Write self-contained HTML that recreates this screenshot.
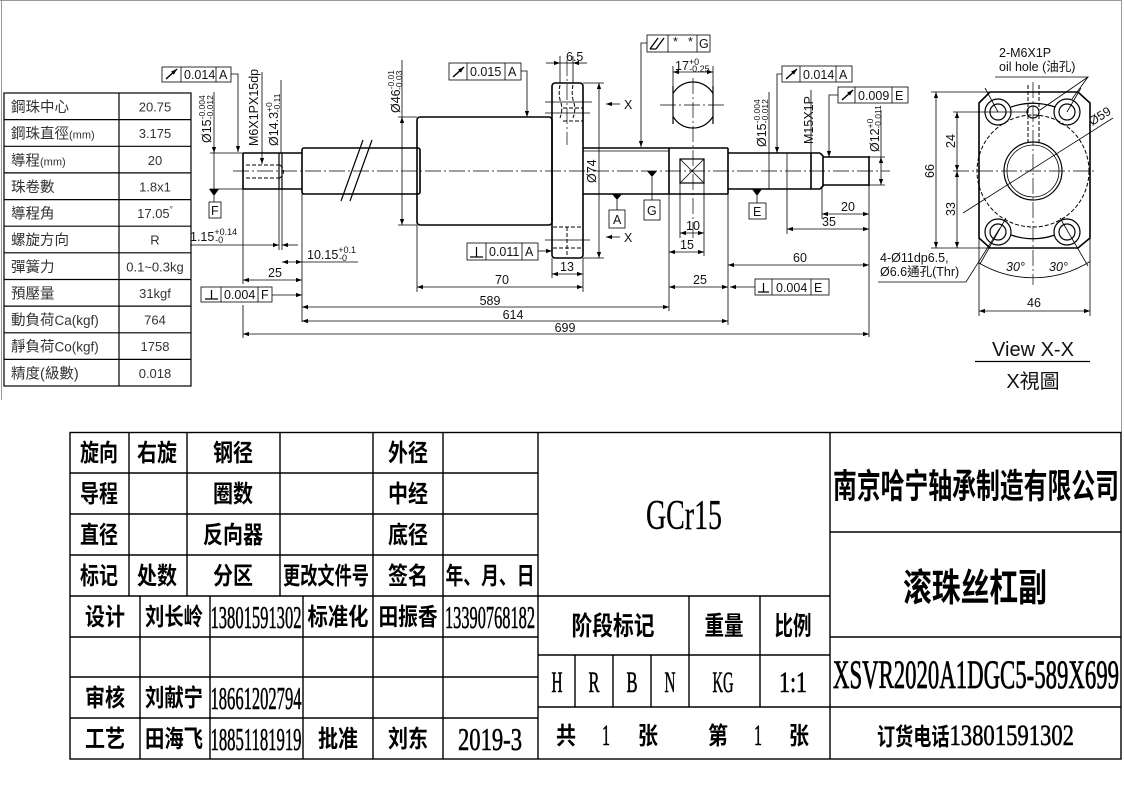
<!DOCTYPE html>
<html><head><meta charset="utf-8"><style>
html,body{margin:0;padding:0;background:#fff;width:1124px;height:795px;overflow:hidden}
svg{display:block}
.l{stroke:#000;stroke-width:.8;fill:none}
.t{stroke:#000;stroke-width:1.6;fill:none}
.m{stroke:#000;stroke-width:1.2;fill:none}
.c{stroke:#000;stroke-width:.7;fill:none;stroke-dasharray:16 3 2 3}
.h{stroke:#000;stroke-width:1;fill:none;stroke-dasharray:4 2}
.s{font-family:"Liberation Sans","Noto Sans CJK TC",sans-serif;font-size:12.5px;fill:#111}
.p{font-family:"Liberation Sans","Noto Sans CJK TC",sans-serif;font-size:13px;fill:#333}
.pc{font-size:14.5px}
.k{font-family:"Liberation Serif","Noto Sans CJK SC",sans-serif;font-weight:bold;font-size:24px;fill:#000}
.n{font-family:"Liberation Serif","Noto Serif CJK SC",serif;font-size:32px;fill:#000;stroke:#000;stroke-width:.6}
</style></head><body>
<svg width="1124" height="795" viewBox="0 0 1124 795" xmlns="http://www.w3.org/2000/svg">
<defs>
<marker id="a" viewBox="0 0 10 10" refX="10" refY="5" markerWidth="7" markerHeight="6" orient="auto-start-reverse" markerUnits="userSpaceOnUse"><path d="M0,1.5 L10,5 L0,8.5 z" fill="#000"/></marker>
</defs>
<rect width="1124" height="795" fill="#fff"/>
<!-- frame -->
<path d="M1.5,0 V400 M0,0.5 H1122 M1121.5,0 V432" stroke="#999" stroke-width="1" fill="none"/>

<!-- parameter table -->
<g>
<rect x="4" y="93" width="187" height="293" class="m"/>
<path class="m" d="M4,119.6H191M4,146.3H191M4,172.9H191M4,199.6H191M4,226.2H191M4,252.8H191M4,279.5H191M4,306.1H191M4,332.8H191M4,359.4H191M119,93V386"/>
<g class="p">
<text x="11" y="112" class="pc">鋼珠中心</text><text x="155" y="111.5" text-anchor="middle">20.75</text>
<text x="11" y="138.5" class="pc">鋼珠直徑<tspan font-size="11">(mm)</tspan></text><text x="155" y="138" text-anchor="middle">3.175</text>
<text x="11" y="165.3" class="pc">導程<tspan font-size="11">(mm)</tspan></text><text x="155" y="164.8" text-anchor="middle">20</text>
<text x="11" y="191.9" class="pc">珠卷數</text><text x="155" y="191.4" text-anchor="middle">1.8x1</text>
<text x="11" y="218.5" class="pc">導程角</text><text x="155" y="218" text-anchor="middle">17.05<tspan font-size="8" dy="-6">°</tspan></text>
<text x="11" y="245.2" class="pc">螺旋方向</text><text x="155" y="244.7" text-anchor="middle">R</text>
<text x="11" y="271.8" class="pc">彈簧力</text><text x="155" y="271.3" text-anchor="middle">0.1~0.3kg</text>
<text x="11" y="298.5" class="pc">預壓量</text><text x="155" y="298" text-anchor="middle">31kgf</text>
<text x="11" y="325.1" class="pc">動負荷<tspan font-size="13.5">Ca(kgf)</tspan></text><text x="155" y="324.6" text-anchor="middle">764</text>
<text x="11" y="351.7" class="pc">靜負荷<tspan font-size="13.5">Co(kgf)</tspan></text><text x="155" y="351.2" text-anchor="middle">1758</text>
<text x="11" y="378.4" class="pc">精度(級數)</text><text x="155" y="377.9" text-anchor="middle">0.018</text>
</g>
</g>

<!-- ================= MAIN SHAFT ================= -->
<path class="c" d="M233,171 H890"/>
<!-- left journal -->
<path class="t" d="M243,153 H302 M243,189 H302 M243,153 V189"/>
<path class="m" d="M279,153 V189 M282,153 V189"/>
<path class="h" d="M246,165 H280 M246,178 H280"/>
<path class="h" d="M280,165 Q287,171.5 280,178"/>
<!-- left rod -->
<rect x="302" y="148" width="118" height="46" rx="2" class="t" fill="#fff"/>
<path class="m" d="M363,140 L341,201 M372,140 L350,201"/>
<!-- nut -->
<rect x="417" y="117" width="135" height="108" rx="3" class="t" fill="#fff"/>
<!-- flange -->
<rect x="552" y="83" width="31" height="175" rx="3" class="t" fill="#fff"/>
<path class="h" d="M560,85 Q558,95 561,103 Q563,110 560,118 M573,85 Q571,95 574,103 Q576,110 573,118 M563,108 H583 M563,121 H583 M553,227 H583 M553,248 H583 M567,227 V256"/>
<path class="l" d="M545,102 H592 M545,113 H590 M545,240 H590"/>
<path class="c" d="M567,60 V145"/>
<!-- right rod -->
<path class="t" d="M583,148 H728 M583,194 H728 M669,148 V194 M728,148 V194"/>
<path class="l" d="M583,151 H669"/>
<rect x="680" y="159" width="24" height="24" class="m"/>
<path class="l" d="M680,159 L704,183 M704,159 L680,183"/>
<!-- right journal, M15, Ø12 -->
<path class="t" d="M728,153 H787 M728,189 H787 M787,153 H820 M787,189 H820 M820,153 L823,156 V186 L820,189 M823,157 H869 M823,185 H869 M869,156 V186 M811,153 V189"/>
<path class="l" d="M787,153 V189"/>

<!-- small end view -->
<defs><clipPath id="cf"><rect x="673" y="70" width="40" height="70"/></clipPath></defs>
<circle cx="693" cy="105" r="23" class="m" clip-path="url(#cf)"/>
<path class="m" d="M673,86 V124 M713,86 V124"/>
<path class="c" d="M660,105 H727 M693,78 V240"/>
<path class="l" d="M673,66 V86 M713,66 V86"/>
<path class="l" d="M673,72 H713" marker-start="url(#a)" marker-end="url(#a)"/>
<text class="s" x="675" y="70">17<tspan font-size="9" dy="-5">+0</tspan><tspan font-size="9" dx="-10" dy="7">-0.25</tspan></text>

<!-- ===== LEFT ANNOTATIONS ===== -->
<rect x="162" y="67" width="69" height="15" class="l"/>
<path class="l" d="M181,67 V82 M216,67 V82"/>
<path d="M166,79 L177,69" stroke="#000" stroke-width="1.5" marker-end="url(#a)"/>
<text class="s" x="184" y="79">0.014</text><text class="s" x="219" y="79">A</text>
<path class="l" d="M231,74 H238 V152" marker-end="url(#a)"/>
<!-- Ø15 left -->
<path class="l" d="M210,153 H243 M210,189 H243"/>
<path class="l" d="M214,92 V153" marker-end="url(#a)"/>
<path class="l" d="M214,153 V189"/>
<text class="s" transform="translate(211,143) rotate(-90)">Ø15<tspan font-size="8.5" dy="-6">-0.004</tspan><tspan font-size="8.5" dx="-24" dy="8">-0.012</tspan></text>
<!-- datum F -->
<path d="M209,189 H219 L214,196 Z" fill="#000"/>
<path class="l" d="M214,196 V202"/>
<rect x="209" y="202" width="12" height="16" class="l"/>
<text class="s" x="211" y="215">F</text>
<!-- M6 -->
<text class="s" transform="translate(258,146) rotate(-90)">M6X1PX15dp</text>
<path class="l" d="M262,72 V164" marker-end="url(#a)"/>
<!-- Ø14.3 -->
<text class="s" transform="translate(278,146) rotate(-90)">Ø14.3<tspan font-size="8.5" dy="-6">+0</tspan><tspan font-size="8.5" dx="-10" dy="8">-0.11</tspan></text>
<path class="l" d="M281,80 V153"/>
<!-- 1.15 -->
<path class="l" d="M279,189 V250 M282,189 V250"/>
<path class="l" d="M190,245 H279" marker-end="url(#a)"/>
<path class="l" d="M298,245 H282" marker-end="url(#a)"/>
<text class="s" x="190" y="241">1.15<tspan font-size="9" dy="-6">+0.14</tspan><tspan font-size="9" dx="-22" dy="8">-0</tspan></text>
<!-- 10.15 -->
<path class="l" d="M302,194 V322"/>
<path class="l" d="M282,262 H302" marker-start="url(#a)" marker-end="url(#a)"/>
<path class="l" d="M302,262 H358"/>
<text class="s" x="307" y="259">10.15<tspan font-size="9" dy="-6">+0.1</tspan><tspan font-size="9" dx="-17" dy="8">-0</tspan></text>
<!-- 25 left -->
<path class="l" d="M243,189 V284 M243,305 V338"/>
<path class="l" d="M243,280 H302" marker-start="url(#a)" marker-end="url(#a)"/>
<text class="s" x="275" y="277" text-anchor="middle">25</text>
<!-- perp 0.004 F -->
<rect x="201" y="287" width="71" height="15" class="l"/>
<path class="l" d="M221,287 V302 M258,287 V302"/>
<path d="M205,299 H218 M211.5,299 V290" stroke="#000" stroke-width="1.2"/>
<text class="s" x="224" y="299">0.004</text><text class="s" x="261" y="299">F</text>
<path class="l" d="M272,295 H302" marker-end="url(#a)"/>

<!-- Ø46 -->
<path class="l" d="M398,117 H417 M398,225 H417"/>
<path class="l" d="M402,117 V225" marker-start="url(#a)" marker-end="url(#a)"/>
<path class="l" d="M402,60 V117"/>
<text class="s" transform="translate(400,113) rotate(-90)">Ø46<tspan font-size="8.5" dy="-6">-0.01</tspan><tspan font-size="8.5" dx="-20" dy="8">-0.03</tspan></text>
<!-- runout 0.015 A -->
<rect x="449" y="63" width="72" height="17" class="l"/>
<path class="l" d="M467,63 V80 M505,63 V80"/>
<path d="M453,77 L464,67" stroke="#000" stroke-width="1.5" marker-end="url(#a)"/>
<text class="s" x="470" y="76">0.015</text><text class="s" x="508" y="76">A</text>
<path class="l" d="M521,71 H527 V117" marker-end="url(#a)"/>
<!-- perp 0.011 A -->
<rect x="467" y="243" width="71" height="17" class="l"/>
<path class="l" d="M486,243 V260 M522,243 V260"/>
<path d="M470,257 H483 M476.5,257 V247" stroke="#000" stroke-width="1.2"/>
<text class="s" x="489" y="256">0.011</text><text class="s" x="525" y="256">A</text>
<path class="l" d="M538,251 H552" marker-end="url(#a)"/>
<!-- 6.5 -->
<path class="l" d="M560,56 V83 M573,56 V83"/>
<path class="l" d="M546,63 H560" marker-end="url(#a)"/>
<path class="l" d="M587,63 H573" marker-end="url(#a)"/>
<path class="l" d="M560,63 H573"/>
<text class="s" x="566" y="61">6.5</text>
<!-- Ø74 -->
<path class="l" d="M583,83 H604 M583,258 H604"/>
<path class="l" d="M599,83 V258" marker-start="url(#a)" marker-end="url(#a)"/>
<text class="s" transform="translate(596,183) rotate(-90)">Ø74</text>
<!-- X arrows -->
<path class="l" d="M620,104 H606" marker-end="url(#a)"/>
<text class="s" x="624" y="109">X</text>
<path class="l" d="M620,237 H606" marker-end="url(#a)"/>
<text class="s" x="624" y="242">X</text>
<!-- 13 -->
<path class="l" d="M552,258 V278 M583,258 V292"/>
<path class="l" d="M552,274 H583" marker-start="url(#a)" marker-end="url(#a)"/>
<text class="s" x="567" y="271" text-anchor="middle">13</text>
<!-- 70 -->
<path class="l" d="M417,225 V292"/>
<path class="l" d="M417,287 H583" marker-start="url(#a)" marker-end="url(#a)"/>
<text class="s" x="502" y="284" text-anchor="middle">70</text>
<!-- datum A -->
<path d="M612,194 H622 L617,200 Z" fill="#000"/>
<path class="l" d="M617,200 V210"/>
<rect x="609" y="210" width="16" height="18" class="l"/>
<text class="s" x="613" y="224">A</text>
<!-- datum G -->
<path d="M647,171 H657 L652,177 Z" fill="#000"/>
<path class="l" d="M652,177 V200"/>
<rect x="644" y="200" width="16" height="20" class="l"/>
<text class="s" x="647" y="215">G</text>
<!-- parallel G -->
<rect x="647" y="35" width="63" height="17" class="l"/>
<path class="l" d="M668,35 V52 M697,35 V52"/>
<path d="M650,49 L658,38 M656,49 L664,38 M650,49 H656" stroke="#000" stroke-width="1.3" fill="none"/>
<text class="s" x="673" y="46" font-size="8">*</text><text class="s" x="688" y="46" font-size="8">*</text>
<text class="s" x="699" y="48">G</text>
<path class="l" d="M647,43 H641 V147" marker-end="url(#a)"/>
<!-- 10 / 15 / 25 -->
<path class="l" d="M680,183 V238 M704,183 V256"/>
<path class="l" d="M680,233 H704" marker-start="url(#a)" marker-end="url(#a)"/>
<text class="s" x="693" y="230" text-anchor="middle">10</text>
<path class="l" d="M669,194 V311"/>
<path class="l" d="M669,252 H704" marker-start="url(#a)" marker-end="url(#a)"/>
<text class="s" x="687" y="249" text-anchor="middle">15</text>
<path class="l" d="M728,194 V325"/>
<path class="l" d="M669,287 H728" marker-start="url(#a)" marker-end="url(#a)"/>
<text class="s" x="700" y="284" text-anchor="middle">25</text>
<!-- perp 0.004 E -->
<rect x="755" y="279" width="74" height="16" class="l"/>
<path class="l" d="M772,279 V295 M811,279 V295"/>
<path d="M758,292 H769 M763.5,292 V283" stroke="#000" stroke-width="1.2"/>
<text class="s" x="776" y="292">0.004</text><text class="s" x="814" y="292">E</text>
<path class="l" d="M755,287 H730" marker-end="url(#a)"/>
<!-- right GD&T -->
<rect x="782" y="66" width="70" height="16" class="l"/>
<path class="l" d="M800,66 V82 M836,66 V82"/>
<path d="M786,79 L797,69" stroke="#000" stroke-width="1.5" marker-end="url(#a)"/>
<text class="s" x="803" y="79">0.014</text><text class="s" x="839" y="79">A</text>
<path class="l" d="M782,74 H777 V153" marker-end="url(#a)"/>
<rect x="838" y="87" width="70" height="16" class="l"/>
<path class="l" d="M855,87 V103 M892,87 V103"/>
<path d="M842,100 L853,90" stroke="#000" stroke-width="1.5" marker-end="url(#a)"/>
<text class="s" x="858" y="100">0.009</text><text class="s" x="895" y="100">E</text>
<path class="l" d="M838,95 H829 V157" marker-end="url(#a)"/>
<!-- Ø15 right, M15, Ø12 -->
<path class="l" d="M769,92 V189"/>
<text class="s" transform="translate(766,147) rotate(-90)">Ø15<tspan font-size="8.5" dy="-6">-0.004</tspan><tspan font-size="8.5" dx="-24" dy="8">-0.012</tspan></text>
<path class="l" d="M811,90 V153"/>
<text class="s" transform="translate(813,144) rotate(-90)">M15X1P</text>
<path class="l" d="M869,157 H885 M869,185 H885"/>
<path class="l" d="M881,110 V157"/>
<path class="l" d="M881,157 V185" marker-start="url(#a)" marker-end="url(#a)"/>
<text class="s" transform="translate(879,152) rotate(-90)">Ø12<tspan font-size="8.5" dy="-6">+0</tspan><tspan font-size="8.5" dx="-10" dy="8">-0.011</tspan></text>
<!-- datum E -->
<path d="M752,189 H762 L757,196 Z" fill="#000"/>
<path class="l" d="M757,196 V203"/>
<rect x="749" y="203" width="17" height="16" class="l"/>
<text class="s" x="753" y="216">E</text>
<!-- 20 35 60 -->
<path class="l" d="M822,186 V219 M787,189 V234 M869,185 V337"/>
<path class="l" d="M822,214 H869" marker-start="url(#a)" marker-end="url(#a)"/>
<text class="s" x="848" y="211" text-anchor="middle">20</text>
<path class="l" d="M787,229 H869" marker-start="url(#a)" marker-end="url(#a)"/>
<text class="s" x="829" y="226" text-anchor="middle">35</text>
<path class="l" d="M728,265 H869" marker-start="url(#a)" marker-end="url(#a)"/>
<text class="s" x="800" y="262" text-anchor="middle">60</text>
<!-- long dims -->
<path class="l" d="M302,307 H669" marker-start="url(#a)" marker-end="url(#a)"/>
<text class="s" x="490" y="305" text-anchor="middle">589</text>
<path class="l" d="M302,321 H728" marker-start="url(#a)" marker-end="url(#a)"/>
<text class="s" x="513" y="319" text-anchor="middle">614</text>
<path class="l" d="M243,334 H869" marker-start="url(#a)" marker-end="url(#a)"/>
<text class="s" x="565" y="332" text-anchor="middle">699</text>

<!-- ================= VIEW X-X ================= -->
<path class="t" d="M990,92 H1078 L1090,103 V238 L1078,248 H990 L979,238 V103 Z"/>
<circle cx="1033" cy="171" r="56" class="h"/>
<circle cx="1033" cy="171" r="29" class="m"/>
<circle cx="1033" cy="171" r="26" class="l"/>
<path class="m" d="M1011,107 A68,68 0 0,1 1055,107 M1011,235 A68,68 0 0,0 1055,235"/>
<g class="m">
<circle cx="998" cy="112" r="13"/><circle cx="998" cy="112" r="8"/>
<circle cx="1067" cy="112" r="13"/><circle cx="1067" cy="112" r="8"/>
<circle cx="998" cy="232" r="13"/><circle cx="998" cy="232" r="8"/>
<circle cx="1067" cy="232" r="13"/><circle cx="1067" cy="232" r="8"/>
</g>
<path class="l" d="M998,112 L985,88 M1067,112 L1081,88 M1060,218 L1088,266 M1006,218 L980,264"/>
<circle cx="1033" cy="112" r="6" class="m"/>
<path class="h" d="M1028,85 V145 M1039,85 V145"/>
<path class="c" d="M953,171 H1095 M1033,82 V285"/>
<path class="l" d="M979,238 V316 M1090,238 V316"/>
<path class="l" d="M979,263 A107,107 0 0,0 1090,261.5"/>
<text class="s" x="1006" y="271" font-style="italic">30°</text>
<text class="s" x="1049" y="271" font-style="italic">30°</text>
<path class="l" d="M979,311 H1090" marker-start="url(#a)" marker-end="url(#a)"/>
<text class="s" x="1034" y="307" text-anchor="middle">46</text>
<!-- 66 / 24 / 33 -->
<path class="l" d="M931,92 H990 M931,248 H990 M953,112 H1027"/>
<path class="l" d="M936,92 V248" marker-start="url(#a)" marker-end="url(#a)"/>
<text class="s" transform="translate(934,178) rotate(-90)">66</text>
<path class="l" d="M957,112 V171" marker-start="url(#a)" marker-end="url(#a)"/>
<text class="s" transform="translate(955,148) rotate(-90)">24</text>
<path class="l" d="M957,171 V248" marker-start="url(#a)" marker-end="url(#a)"/>
<text class="s" transform="translate(955,216) rotate(-90)">33</text>
<!-- Ø59 -->
<path class="l" d="M963,213 L1113,118"/>
<text class="s" transform="translate(1092,126) rotate(-32)">Ø59</text>
<!-- oil hole -->
<text class="s" x="999" y="57">2-M6X1P</text>
<text class="s" x="999" y="71">oil hole (油孔)</text>
<path class="l" d="M995,77 H1088 L1040,110 M1088,77 L1072,99"/>
<!-- bolt holes note -->
<text class="s" x="880" y="262">4-Ø11dp6.5,</text>
<text class="s" x="880" y="276">Ø6.6通孔(Thr)</text>
<path class="l" d="M878,282 H966 L1000,228"/>
<!-- title -->
<text x="1033" y="356" text-anchor="middle" font-family="Liberation Sans,sans-serif" font-size="20" fill="#111">View X-X</text>
<path d="M975,361.5 H1090" stroke="#000" stroke-width="1.2"/>
<text x="1033" y="388" text-anchor="middle" font-family="Liberation Sans,'Noto Sans CJK TC',sans-serif" font-size="20" fill="#111">X視圖</text>

<!-- ================= TITLE BLOCK ================= -->
<g stroke="#000" stroke-width="1.4" fill="none">
<rect x="70" y="432.5" width="1051" height="326.5"/>
<path d="M70,473H538M70,514H538M70,555H538M70,596H538M70,637H538M70,677H538M70,718H538"/>
<path d="M129,432V596M187,432V596M280,432V596M373,432V759M443,432V759"/>
<path d="M140,596V759M210,596V759M303,596V759"/>
<path d="M538,432V759M830,432V759"/>
<path d="M538,596H830M538,655H830M538,707H830"/>
<path d="M689,596V707M760,596V707M575,655V707M613,655V707M651,655V707"/>
<path d="M830,532H1121M830,637H1121M830,707H1121"/>
</g>
<g class="k" text-anchor="middle">
<text x="99" y="461" textLength="38" lengthAdjust="spacingAndGlyphs">旋向</text>
<text x="157" y="461" textLength="40" lengthAdjust="spacingAndGlyphs">右旋</text>
<text x="233" y="461" textLength="40" lengthAdjust="spacingAndGlyphs">钢径</text>
<text x="408" y="461" textLength="40" lengthAdjust="spacingAndGlyphs">外径</text>
<text x="99" y="502" textLength="38" lengthAdjust="spacingAndGlyphs">导程</text>
<text x="233" y="502" textLength="40" lengthAdjust="spacingAndGlyphs">圈数</text>
<text x="408" y="502" textLength="40" lengthAdjust="spacingAndGlyphs">中经</text>
<text x="99" y="543" textLength="38" lengthAdjust="spacingAndGlyphs">直径</text>
<text x="233" y="543" textLength="60" lengthAdjust="spacingAndGlyphs">反向器</text>
<text x="408" y="543" textLength="40" lengthAdjust="spacingAndGlyphs">底径</text>
<text x="99" y="584" textLength="38" lengthAdjust="spacingAndGlyphs">标记</text>
<text x="157" y="584" textLength="40" lengthAdjust="spacingAndGlyphs">处数</text>
<text x="233" y="584" textLength="40" lengthAdjust="spacingAndGlyphs">分区</text>
<text x="326" y="584" textLength="86" lengthAdjust="spacingAndGlyphs">更改文件号</text>
<text x="408" y="584" textLength="40" lengthAdjust="spacingAndGlyphs">签名</text>
<text x="490" y="584" textLength="89" lengthAdjust="spacingAndGlyphs">年、月、日</text>
<text x="105" y="625" textLength="40" lengthAdjust="spacingAndGlyphs">设计</text>
<text x="174" y="625" textLength="58" lengthAdjust="spacingAndGlyphs">刘长岭</text>
<text x="338" y="625" textLength="61" lengthAdjust="spacingAndGlyphs">标准化</text>
<text x="408" y="625" textLength="59" lengthAdjust="spacingAndGlyphs">田振香</text>
<text x="105" y="706" textLength="40" lengthAdjust="spacingAndGlyphs">审核</text>
<text x="174" y="706" textLength="58" lengthAdjust="spacingAndGlyphs">刘献宁</text>
<text x="105" y="747" textLength="40" lengthAdjust="spacingAndGlyphs">工艺</text>
<text x="174" y="747" textLength="58" lengthAdjust="spacingAndGlyphs">田海飞</text>
<text x="338" y="747" textLength="40" lengthAdjust="spacingAndGlyphs">批准</text>
<text x="408" y="747" textLength="40" lengthAdjust="spacingAndGlyphs">刘东</text>
<text x="613" y="635" font-size="26" textLength="83" lengthAdjust="spacingAndGlyphs">阶段标记</text>
<text x="724" y="635" font-size="26" textLength="39" lengthAdjust="spacingAndGlyphs">重量</text>
<text x="793" y="635" font-size="26" textLength="37" lengthAdjust="spacingAndGlyphs">比例</text>
<text x="566" y="744" textLength="20" lengthAdjust="spacingAndGlyphs">共</text>
<text x="648" y="744" textLength="20" lengthAdjust="spacingAndGlyphs">张</text>
<text x="718" y="744" textLength="20" lengthAdjust="spacingAndGlyphs">第</text>
<text x="799" y="744" textLength="20" lengthAdjust="spacingAndGlyphs">张</text>
<text x="976" y="498" font-size="34" textLength="286" lengthAdjust="spacingAndGlyphs">南京哈宁轴承制造有限公司</text>
<text x="975" y="601" font-size="38" textLength="144" lengthAdjust="spacingAndGlyphs">滚珠丝杠副</text>
</g>
<g class="n" text-anchor="middle">
<text x="256" y="628" textLength="91" lengthAdjust="spacingAndGlyphs">13801591302</text>
<text x="490" y="628" textLength="90" lengthAdjust="spacingAndGlyphs">13390768182</text>
<text x="256" y="709" textLength="91" lengthAdjust="spacingAndGlyphs">18661202794</text>
<text x="256" y="750" textLength="91" lengthAdjust="spacingAndGlyphs">18851181919</text>
<text x="490" y="750" textLength="64" lengthAdjust="spacingAndGlyphs">2019-3</text>
<text x="684" y="529" font-size="42" textLength="76" lengthAdjust="spacingAndGlyphs" stroke-width="0.3">GCr15</text>
<text x="557" y="692" font-size="30" textLength="11" lengthAdjust="spacingAndGlyphs">H</text>
<text x="594" y="692" font-size="30" textLength="11" lengthAdjust="spacingAndGlyphs">R</text>
<text x="632" y="692" font-size="30" textLength="11" lengthAdjust="spacingAndGlyphs">B</text>
<text x="670" y="692" font-size="30" textLength="11" lengthAdjust="spacingAndGlyphs">N</text>
<text x="723" y="692" font-size="30" textLength="21" lengthAdjust="spacingAndGlyphs">KG</text>
<text x="793" y="692" font-size="30" textLength="28" lengthAdjust="spacingAndGlyphs">1:1</text>
<text x="606" y="745" font-size="30" textLength="8" lengthAdjust="spacingAndGlyphs">1</text>
<text x="758" y="745" font-size="30" textLength="8" lengthAdjust="spacingAndGlyphs">1</text>
<text x="976" y="688" font-size="40" textLength="286" lengthAdjust="spacingAndGlyphs" stroke-width="0.8">XSVR2020A1DGC5-589X699</text>
</g>
<text x="877" y="745" textLength="197" lengthAdjust="spacingAndGlyphs" font-size="26"><tspan font-family="'Noto Sans CJK SC',sans-serif" font-weight="bold" font-size="24">订货电话</tspan><tspan font-family="'Liberation Serif',serif" font-size="30" stroke="#000" stroke-width="0.6">13801591302</tspan></text>
</svg>
</body></html>
